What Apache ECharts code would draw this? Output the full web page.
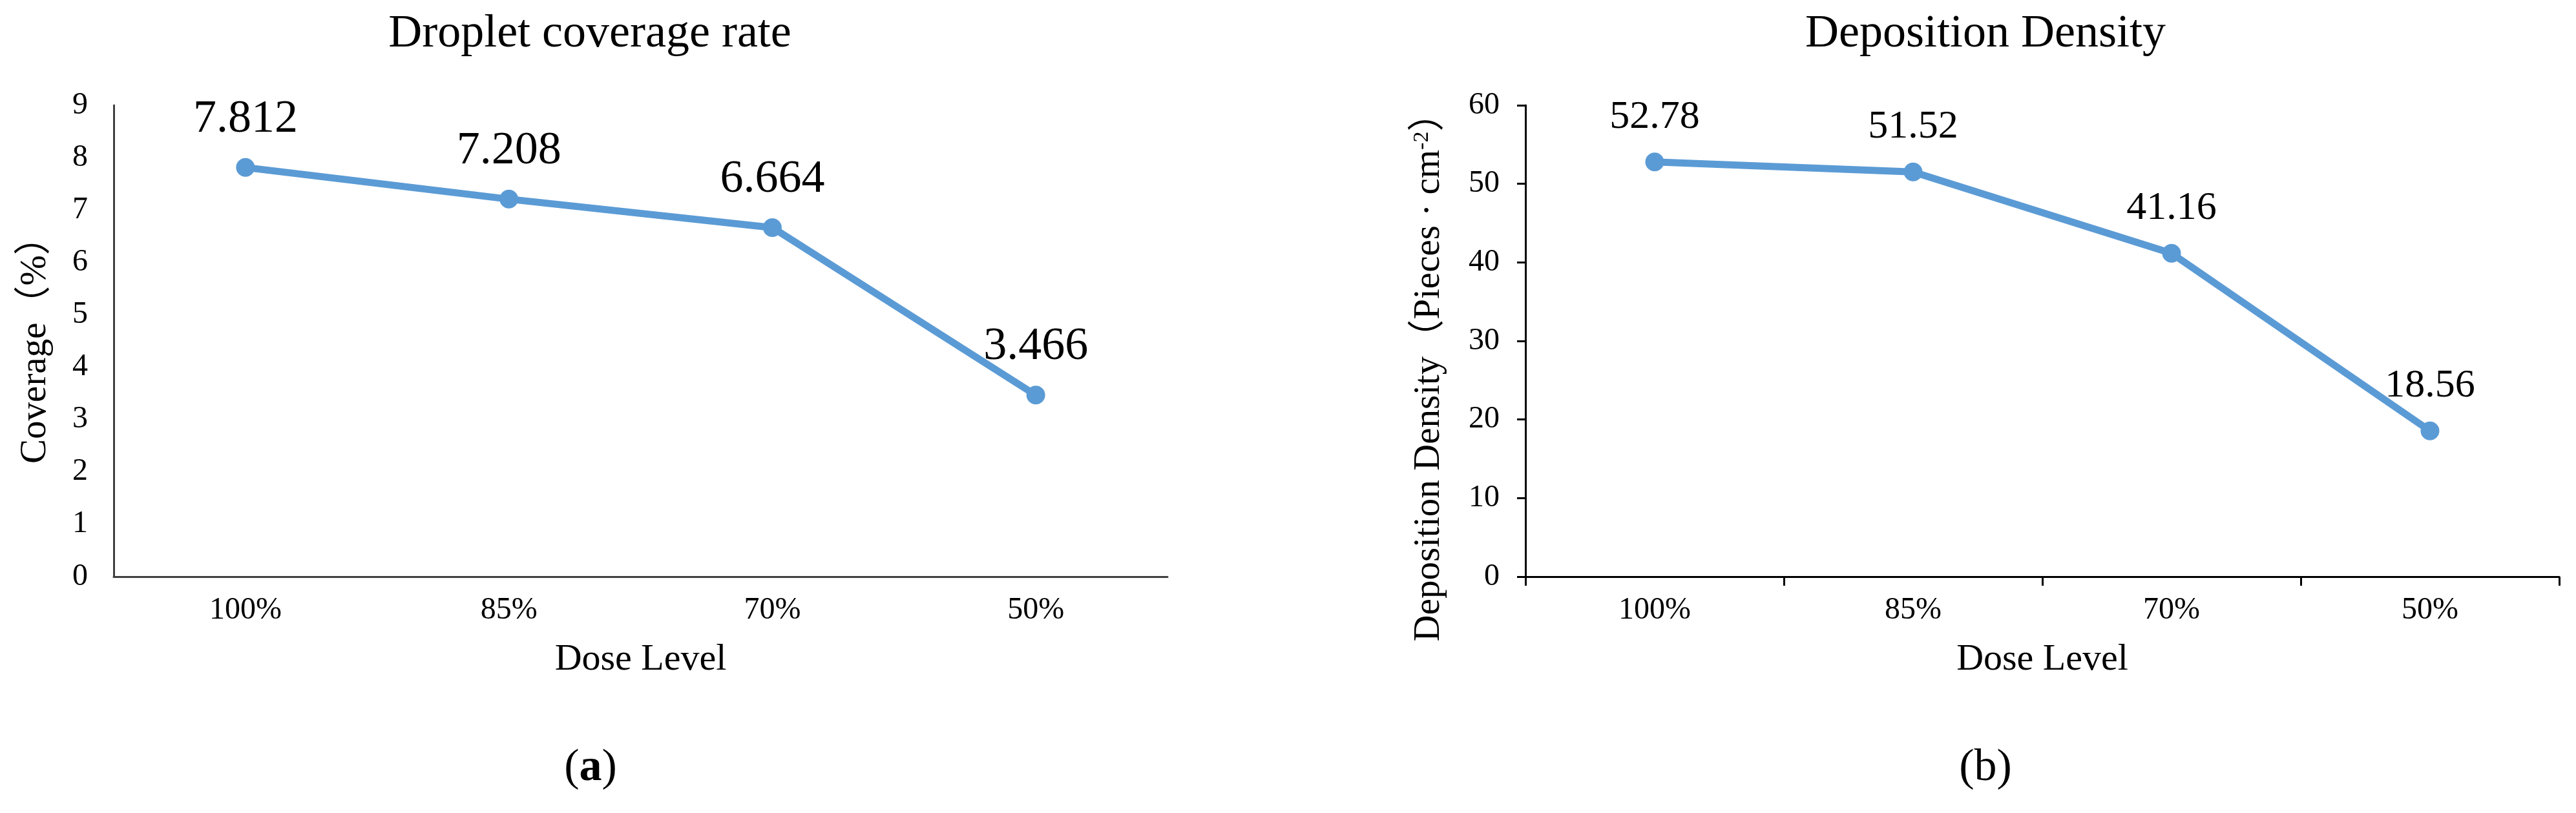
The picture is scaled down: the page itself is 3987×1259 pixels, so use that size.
<!DOCTYPE html>
<html><head><meta charset="utf-8">
<script src="https://cdn.jsdelivr.net/npm/echarts@6/dist/echarts.min.js"></script>
<style>html,body{margin:0;padding:0;background:#fff}#c{width:3987px;height:1259px}</style>
</head><body><div id="c"></div>
<script>
const categories = ['100%', '85%', '70%', '50%'];
const coverageValues = [7.812, 7.208, 6.664, 3.466];
const densityValues = [52.78, 51.52, 41.16, 18.56];
const coverageAxis = { min: 0, max: 9, interval: 1 };
const densityAxis = { min: 0, max: 60, interval: 10 };
const chartTitles = ['Droplet coverage rate', 'Deposition Density'];
const captions = ['({b|a})', '({n|b})'];
const yNames = ['Coverage（%）', 'Deposition Density（Pieces · cm{sup|-2}）'];
const xName = 'Dose Level';

const serif = "'Liberation Serif', 'Times New Roman', 'Noto Sans CJK SC', serif";
const blue = '#5B9BD5';

const chart = echarts.init(document.getElementById('c'), null, { renderer: 'canvas' });

function xAxisCfg(idx, ticks, lineColor) {
  return {
    type: 'category', gridIndex: idx, data: categories, boundaryGap: true,
    axisLine: { show: true, lineStyle: { color: lineColor, width: 3 } },
    axisTick: { show: ticks, length: 14, lineStyle: { color: lineColor, width: 3 } },
    axisLabel: { fontSize: 48, margin: 28, color: '#000', fontFamily: serif },
    splitLine: { show: false },
    name: xName, nameLocation: 'middle', nameGap: 100,
    nameTextStyle: { fontSize: 58, color: '#000', fontFamily: serif }
  };
}
function yAxisCfg(idx, rng, ticks, lineColor, name, gap, pad, rich) {
  const nts = { fontSize: 57, color: '#000', fontFamily: serif, padding: pad };
  if (rich) nts.rich = { sup: { fontSize: 34, fontFamily: serif, color: '#000', verticalAlign: 'top' } };
  return Object.assign({
    type: 'value', gridIndex: idx,
    axisLine: { show: true, lineStyle: { color: lineColor, width: 3 } },
    axisTick: { show: ticks, length: 13, lineStyle: { color: lineColor, width: 3 } },
    axisLabel: { fontSize: 48, margin: 40, color: '#000', fontFamily: serif },
    splitLine: { show: false },
    name: name, nameLocation: 'middle', nameGap: gap,
    nameTextStyle: nts
  }, rng);
}
function seriesCfg(idx, values, digits, labelSize) {
  return {
    type: 'line', xAxisIndex: idx, yAxisIndex: idx, data: values,
    symbol: 'circle', symbolSize: 29,
    lineStyle: { color: blue, width: 11 }, itemStyle: { color: blue },
    label: {
      show: true, position: 'top', distance: 24, fontSize: labelSize, color: '#000', fontFamily: serif,
      formatter: p => Number(p.value).toFixed(digits)
    },
    emphasis: { disabled: true }
  };
}

const option = {
  backgroundColor: '#fff',
  animation: false,
  title: [
    { text: chartTitles[0], left: 908, top: 12, textAlign: 'center',
      textStyle: { fontSize: 72, fontWeight: 'normal', color: '#000', fontFamily: serif } },
    { text: chartTitles[1], left: 3068, top: 12, textAlign: 'center',
      textStyle: { fontSize: 72, fontWeight: 'normal', color: '#000', fontFamily: serif } },
    { text: captions[0], left: 909, top: 1150, textAlign: 'center',
      textStyle: { fontSize: 70, fontWeight: 'normal', color: '#000', fontFamily: serif,
        rich: { b: { fontSize: 70, fontWeight: 'bold', color: '#000', fontFamily: serif } } } },
    { text: captions[1], left: 3068, top: 1150, textAlign: 'center',
      textStyle: { fontSize: 70, fontWeight: 'normal', color: '#000', fontFamily: serif,
        rich: { n: { fontSize: 70, fontWeight: 'normal', color: '#000', fontFamily: serif } } } }
  ],
  grid: [
    { left: 176, right: 2180, top: 163, bottom: 366, containLabel: false },
    { left: 2361, right: 26, top: 163, bottom: 366, containLabel: false }
  ],
  xAxis: [xAxisCfg(0, false, '#404040'), xAxisCfg(1, true, '#000')],
  yAxis: [
    yAxisCfg(0, coverageAxis, false, '#404040', yNames[0], 92, [0, 0, 0, 0], false),
    yAxisCfg(1, densityAxis, true, '#000', yNames[1], 120, [0, 84, 0, 0], true)
  ],
  series: [seriesCfg(0, coverageValues, 3, 72), seriesCfg(1, densityValues, 2, 62)]
};
chart.setOption(option);
</script></body></html>
